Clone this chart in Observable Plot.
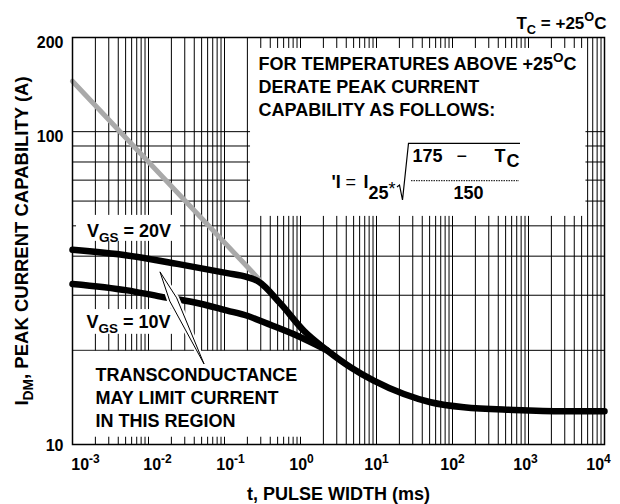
<!DOCTYPE html>
<html><head><meta charset="utf-8">
<script src="https://cdn.jsdelivr.net/npm/d3@7"></script>
<script src="https://cdn.jsdelivr.net/npm/@observablehq/plot@0.6"></script>
<style>
body{margin:0;background:#fff;}
#chart{width:620px;height:504px;}
</style></head><body><div id="chart"></div>
<script>
// ---- data ----
const grayT = [0.001, 0.28];
const grayI = [145, 33.9];
const vgs20T = [0.001, 0.00525, 0.0239, 0.1087, 0.199, 0.28, 0.546, 1.106, 2.24, 4.55, 9.2, 22.9, 51.4, 141, 641, 2917, 10000];
const vgs20I = [41.9, 40.2, 37.8, 35.3, 34.3, 33.2, 28.2, 23.1, 20.0, 17.66, 16.0, 14.5, 13.65, 13.15, 12.9, 12.78, 12.78];
const vgs10T = [0.001, 0.00525, 0.0144, 0.0394, 0.1087, 0.199, 0.3, 0.82, 2.24];
const vgs10I = [32.6, 31.1, 29.7, 28.5, 26.8, 25.8, 24.8, 22.5, 20.0];
const xTicks = [1e-3, 1e-2, 1e-1, 1, 10, 100, 1000, 10000];
const yTicksTop = [100, 200];
const yTicksBottom = [10];
const yGrid = [10, 20, 30, 40, 50, 60, 70, 80, 90, 100, 200];
const xDecades = [-3, -2, -1, 0, 1, 2, 3];
const xMantissas = [1, 2, 3, 4, 5, 6, 7, 8, 9];
const arrowTip = {t: 0.01438, I: 35.5};
const arrowTail = {t: 0.0546, I: 18.03};

const xGrid = xDecades.flatMap(k => xMantissas.map(m => m * Math.pow(10, k))).concat([1e4]);
const gray = grayT.map((t, i) => ({t, I: grayI[i]}));
const vgs20 = vgs20T.map((t, i) => ({t, I: vgs20I[i]}));
const vgs10 = vgs10T.map((t, i) => ({t, I: vgs10I[i]}));

const ML = 72, MT = 37, MR = 16, MB = 60;
function note(text, px, py, o = {}) {
  return Plot.text([text], {text: d => d, frameAnchor: "top-left", dx: px - ML, dy: py - MT,
    textAnchor: "start", lineAnchor: "bottom", fontSize: 18, fill: "black", ...o});
}

const masks = [
  {x1: 0.22, x2: 5700, y1: 53.6, y2: 184.5},
  {x1: 0.001, x2: 1.8, y1: 10.55, y2: 19.85},
  {x1: 0.00113, x2: 0.0264, y1: 44.6, y2: 54.0},
  {x1: 0.00113, x2: 0.0248, y1: 22.5, y2: 27.0}
];

const plot = Plot.plot({
  width: 620, height: 504,
  marginLeft: ML, marginRight: MR, marginTop: MT, marginBottom: MB,
  x: {type: "log", domain: [1e-3, 1e4], axis: null},
  y: {type: "log", domain: [10, 200], axis: null},
  style: {fontFamily: "'Liberation Sans', Arial, sans-serif", fontSize: "16px", fontWeight: "bold", background: "white", color: "black", overflow: "visible"},
  marks: [
    Plot.ruleX(xGrid, {stroke: "black", strokeWidth: 1}),
    Plot.ruleY(yGrid, {stroke: "black", strokeWidth: 1}),
    Plot.rect(masks, {x1: "x1", x2: "x2", y1: "y1", y2: "y2", fill: "white"}),
    Plot.line(gray, {x: "t", y: "I", stroke: "#a9a9a9", strokeWidth: 5}),
    Plot.line(vgs10, {x: "t", y: "I", stroke: "black", strokeWidth: 6.5, curve: "monotone-x"}),
    Plot.line(vgs20, {x: "t", y: "I", stroke: "black", strokeWidth: 6.5, curve: "monotone-x"}),
    Plot.frame({stroke: "black", strokeWidth: 1.5}),
    Plot.axisX({ticks: xTicks, tickSize: 0, tickPadding: 14, fontSize: 16, label: null,
      tickFormat: d => `10^{${Math.round(Math.log10(d))}}`}),
    Plot.axisY({ticks: yTicksTop, tickSize: 0, tickPadding: 9, fontSize: 16, dy: 5, label: null, tickFormat: d => String(d)}),
    Plot.axisY({ticks: yTicksBottom, tickSize: 0, tickPadding: 9, fontSize: 16, dy: 1, label: null, tickFormat: d => String(d)}),
    note("T_{C} = +25^{O}C", 606, 28, {textAnchor: "end", fontSize: 17}),
    note("FOR TEMPERATURES ABOVE +25^{O}C", 258, 69.5),
    note("DERATE PEAK CURRENT", 258, 92),
    note("CAPABILITY AS FOLLOWS:", 258, 115),
    note("'I", 331, 187),
    note("=", 345, 187, {fontWeight: "normal"}),
    note("I", 363, 187),
    note("25", 368, 198),
    note("*", 388, 194, {fontWeight: "normal"}),
    note("175", 412, 161.5),
    note("\u2212", 456, 161.5, {fontWeight: "normal"}),
    note("T", 494, 161.5),
    note("C", 506, 166.5),
    note("150", 453, 198),
    note("V_{GS} = 20V", 86.5, 236),
    note("V_{GS} = 10V", 86, 327),
    note("TRANSCONDUCTANCE", 95, 380),
    note("MAY LIMIT CURRENT", 95, 403.3),
    note("IN THIS REGION", 95, 426.7),
    Plot.text(["t, PULSE WIDTH (ms)"], {text: d => d, frameAnchor: "bottom", dy: 499 - 444, textAnchor: "middle", lineAnchor: "bottom", fontSize: 18}),
    Plot.text(["I_{DM}, PEAK CURRENT CAPABILITY (A)"], {text: d => d, frameAnchor: "left", dx: 27 - ML, rotate: -90, textAnchor: "middle", lineAnchor: "bottom", fontSize: 18.5, letterSpacing: 0.6})
  ]
});
document.getElementById("chart").appendChild(plot);

const svgNS = "http://www.w3.org/2000/svg";
function markup(el) {
  const s = el.textContent;
  if (!/[_^]\{/.test(s)) return;
  const fs = parseFloat(getComputedStyle(el).fontSize) || 16;
  el.textContent = "";
  const re = /([_^])\{([^}]*)\}/g;
  let last = 0, shift = 0, m;
  const add = (txt, kind) => {
    if (!txt) return;
    const ts = document.createElementNS(svgNS, "tspan");
    const target = kind === "_" ? 0.3 * fs : kind === "^" ? -0.42 * fs : 0;
    const d = target - shift;
    if (d) ts.setAttribute("dy", d);
    shift = target;
    if (kind) ts.setAttribute("font-size", 0.75 * fs);
    ts.textContent = txt;
    el.appendChild(ts);
  };
  while ((m = re.exec(s))) { add(s.slice(last, m.index), null); add(m[2], m[1]); last = re.lastIndex; }
  add(s.slice(last), null);
}
plot.querySelectorAll("text").forEach(markup);

// nudge x tick labels like the reference
const xShift = [13, 9, 6, 1, 0, 0, -3, -6];
plot.querySelectorAll('g[aria-label="x-axis tick label"] text').forEach((el, i) => {
  el.setAttribute("transform", (el.getAttribute("transform") || "") + ` translate(${xShift[i] || 0},0)`);
});

const svg = d3.select(plot);
// radical and fraction bar of the formula
svg.append("path").attr("d", "M397,187 L399.5,185 L402.5,200 L408.5,143.3 L520,143.3")
  .attr("fill", "none").attr("stroke", "black").attr("stroke-width", 1.2);
svg.append("line").attr("x1", 411).attr("x2", 519).attr("y1", 180.7).attr("y2", 180.7)
  .attr("stroke", "black").attr("stroke-width", 1).attr("stroke-dasharray", "1.5 1");

// arrow (slender dart) from the note to the V_GS=20V curve
const sx = plot.scale("x"), sy = plot.scale("y");
const tip = [sx.apply(arrowTip.t), sy.apply(arrowTip.I)];
const tail = [sx.apply(arrowTail.t), sy.apply(arrowTail.I)];
const L = Math.hypot(tail[0] - tip[0], tail[1] - tip[1]);
const u = [(tail[0] - tip[0]) / L, (tail[1] - tip[1]) / L];
const n = [-u[1], u[0]];
const sh = [tip[0] + u[0] * L * 0.3, tip[1] + u[1] * L * 0.3];
const w = 3.8;
const dart = `M${tip} L${sh[0] + n[0] * w},${sh[1] + n[1] * w} L${tail} L${sh[0] - n[0] * w},${sh[1] - n[1] * w} Z`;
svg.append("path").attr("d", dart).attr("fill", "white").attr("stroke", "white").attr("stroke-width", 5).attr("stroke-linejoin", "round");
svg.append("path").attr("d", dart).attr("fill", "white").attr("stroke", "black").attr("stroke-width", 1).attr("stroke-linejoin", "miter");
</script></body></html>
